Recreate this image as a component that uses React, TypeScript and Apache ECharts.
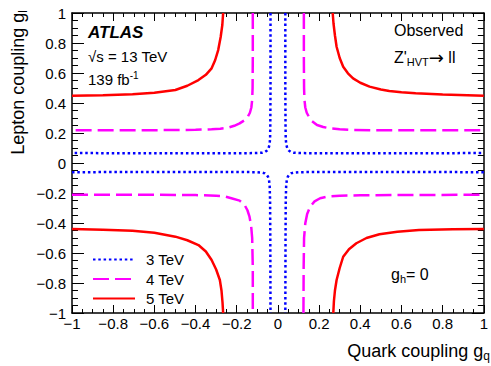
import React, { useEffect, useRef } from "react";
import * as echarts from "echarts";

const FONT = '"Liberation Sans", Arial, Helvetica, sans-serif';

// axis ticks
const axisMin = -1;
const axisMax = 1;
const axisStep = 0.2;

// legend labels
const massLabels = ["3 TeV", "4 TeV", "5 TeV"];

// 3 TeV contour branches [g_q, g_l]
const tev3_q1 = [[0.036, 1], [0.036, 0.5], [0.037, 0.25], [0.038, 0.16], [0.041, 0.12], [0.046, 0.097], [0.053, 0.083], [0.062, 0.074], [0.075, 0.069], [0.1, 0.066], [0.3, 0.065], [1, 0.066]];
const tev3_q2 = [[-0.036, 1], [-0.036, 0.5], [-0.037, 0.25], [-0.038, 0.16], [-0.041, 0.12], [-0.046, 0.097], [-0.053, 0.083], [-0.062, 0.074], [-0.075, 0.069], [-0.1, 0.066], [-0.3, 0.065], [-1, 0.066]];
const tev3_q3 = [[-1, -0.061], [-0.3, -0.06], [-0.1, -0.061], [-0.077, -0.064], [-0.064, -0.069], [-0.055, -0.078], [-0.048, -0.092], [-0.043, -0.115], [-0.04, -0.155], [-0.038, -0.25], [-0.037, -0.5], [-0.036, -1]];
const tev3_q4 = [[1, -0.061], [0.3, -0.06], [0.1, -0.061], [0.077, -0.064], [0.064, -0.069], [0.055, -0.078], [0.048, -0.092], [0.043, -0.115], [0.04, -0.155], [0.038, -0.25], [0.037, -0.5], [0.036, -1]];

// 4 TeV contour branches
const tev4_q1 = [[0.126, 1], [0.126, 0.7], [0.127, 0.5], [0.129, 0.42], [0.133, 0.37], [0.14, 0.335], [0.15, 0.309], [0.165, 0.28], [0.19, 0.253], [0.22, 0.24], [0.253, 0.231], [0.3, 0.225], [0.365, 0.22], [0.5, 0.218], [0.7, 0.218], [1, 0.218]];
const tev4_q2 = [[-0.122, 1], [-0.122, 0.7], [-0.123, 0.5], [-0.125, 0.42], [-0.129, 0.37], [-0.136, 0.335], [-0.146, 0.309], [-0.162, 0.285], [-0.186, 0.264], [-0.212, 0.248], [-0.242, 0.236], [-0.28, 0.229], [-0.322, 0.225], [-0.4, 0.221], [-0.6, 0.219], [-1, 0.218]];
const tev4_q3 = [[-1, -0.212], [-0.6, -0.212], [-0.4, -0.214], [-0.3, -0.218], [-0.26, -0.222], [-0.226, -0.235], [-0.186, -0.251], [-0.162, -0.28], [-0.148, -0.315], [-0.138, -0.358], [-0.13, -0.42], [-0.125, -0.5], [-0.122, -0.7], [-0.122, -1]];
const tev4_q4 = [[0.124, -1], [0.125, -0.7], [0.127, -0.5], [0.133, -0.402], [0.142, -0.34], [0.157, -0.29], [0.178, -0.256], [0.205, -0.235], [0.24, -0.224], [0.3, -0.218], [0.4, -0.215], [0.6, -0.213], [1, -0.212]];

// 5 TeV contour branches
const tev5_q1 = [[0.266, 1], [0.27, 0.93], [0.277, 0.85], [0.285, 0.775], [0.3, 0.7], [0.317, 0.642], [0.34, 0.598], [0.365, 0.564], [0.4, 0.535], [0.445, 0.509], [0.5, 0.49], [0.541, 0.48], [0.6, 0.471], [0.669, 0.465], [0.8, 0.456], [1, 0.449]];
const tev5_q2 = [[-0.266, 1], [-0.27, 0.92], [-0.278, 0.84], [-0.29, 0.753], [-0.305, 0.685], [-0.322, 0.631], [-0.35, 0.588], [-0.386, 0.553], [-0.44, 0.515], [-0.498, 0.487], [-0.6, 0.468], [-0.706, 0.458], [-0.85, 0.452], [-1, 0.449]];
const tev5_q3 = [[-1, -0.44], [-0.85, -0.445], [-0.706, -0.451], [-0.6, -0.465], [-0.498, -0.491], [-0.44, -0.515], [-0.386, -0.547], [-0.35, -0.59], [-0.322, -0.647], [-0.3, -0.71], [-0.282, -0.78], [-0.274, -0.85], [-0.269, -0.93], [-0.266, -1]];
const tev5_q4 = [[0.269, -1], [0.272, -0.92], [0.277, -0.85], [0.285, -0.78], [0.3, -0.7], [0.317, -0.625], [0.345, -0.575], [0.381, -0.535], [0.43, -0.5], [0.493, -0.475], [0.58, -0.458], [0.685, -0.447], [0.85, -0.442], [1, -0.44]];

const branches3 = [tev3_q1, tev3_q2, tev3_q3, tev3_q4];
const branches4 = [tev4_q1, tev4_q2, tev4_q3, tev4_q4];
const branches5 = [tev5_q1, tev5_q2, tev5_q3, tev5_q4];

const styles = [
  { color: "#0000ff", width: 2.5, type: [2.5, 2.8] as any },
  { color: "#ff00ff", width: 2.5, type: [16, 6] as any },
  { color: "#ff0000", width: 2.5, type: "solid" as any },
];

const fmt = (v: number) => {
  const r = Math.round(v * 10) / 10;
  return String(r).replace("-", "\u2212");
};

export default function App() {
  const ref = useRef<HTMLDivElement>(null);
  useEffect(() => {
    document.body.style.margin = "0";
    if (!ref.current) return;
    const chart = echarts.init(ref.current, undefined, { renderer: "svg" });

    const series: any[] = [];
    [branches3, branches4, branches5].forEach((group, gi) => {
      group.forEach((data) => {
        series.push({
          type: "line",
          name: massLabels[gi],
          data,
          symbol: "none",
          showSymbol: false,
          xAxisIndex: 0,
          yAxisIndex: 0,
          lineStyle: { color: styles[gi].color, width: styles[gi].width, type: styles[gi].type },
          itemStyle: { color: styles[gi].color },
          z: 3 + gi,
        });
      });
    });

    const common = {
      type: "value" as const,
      min: axisMin,
      max: axisMax,
      interval: axisStep,
      splitLine: { show: false },
      minorSplitLine: { show: false },
      axisLine: { show: true, onZero: false, lineStyle: { color: "#000", width: 1.5 } },
    };

    const option: any = {
      animation: false,
      grid: { left: 72, right: 2, top: 13, bottom: 53, containLabel: false },
      xAxis: [
        {
          ...common,
          position: "bottom",
          axisTick: { show: true, inside: true, length: 8, lineStyle: { color: "#000", width: 1 } },
          minorTick: { show: true, splitNumber: 4, length: 4, lineStyle: { color: "#000", width: 1 } },
          axisLabel: {
            show: true,
            interval: 0,
            showMinLabel: true,
            showMaxLabel: true,
            margin: 3,
            color: "#000",
            fontSize: 15,
            fontFamily: FONT,
            formatter: fmt,
          },
        },
        {
          ...common,
          position: "top",
          axisTick: { show: true, inside: true, length: 8, lineStyle: { color: "#000", width: 1 } },
          minorTick: { show: true, splitNumber: 4, length: 4, lineStyle: { color: "#000", width: 1 } },
          axisLabel: { show: false },
        },
      ],
      yAxis: [
        {
          ...common,
          position: "left",
          axisTick: { show: true, inside: true, length: 12, lineStyle: { color: "#000", width: 1 } },
          minorTick: { show: true, splitNumber: 4, length: 6, lineStyle: { color: "#000", width: 1 } },
          axisLabel: {
            show: true,
            interval: 0,
            showMinLabel: true,
            showMaxLabel: true,
            margin: 6,
            color: "#000",
            fontSize: 15,
            fontFamily: FONT,
            formatter: fmt,
          },
        },
        {
          ...common,
          position: "right",
          axisTick: { show: true, inside: true, length: 12, lineStyle: { color: "#000", width: 1 } },
          minorTick: { show: true, splitNumber: 4, length: 6, lineStyle: { color: "#000", width: 1 } },
          axisLabel: { show: false },
        },
      ],
      legend: {
        data: massLabels,
        orient: "vertical",
        left: 92,
        top: 252,
        padding: 0,
        itemWidth: 42,
        itemHeight: 14,
        itemGap: 4.5,
        selectedMode: false,
        itemStyle: { opacity: 0 },
        textStyle: { fontSize: 15, fontFamily: FONT, color: "#000", padding: [0, 0, 0, 6] },
      },
      graphic: [
        {
          type: "text",
          x: 88,
          y: 24,
          style: { text: "ATLAS", fontSize: 17, fontWeight: "bold", fontStyle: "italic", fontFamily: FONT, fill: "#000" },
        },
        {
          type: "text",
          x: 88,
          y: 49,
          style: { text: "\u221As = 13 TeV", fontSize: 15, fontFamily: FONT, fill: "#000" },
        },
        {
          type: "text",
          x: 88,
          y: 70,
          style: {
            text: "{m|139 fb}{p|-1}",
            fill: "#000",
            rich: {
              m: { fontSize: 15, lineHeight: 18, fontFamily: FONT, fill: "#000" },
              p: { fontSize: 10, lineHeight: 8, verticalAlign: "top", fontFamily: FONT, fill: "#000" },
            },
          },
        },
        {
          type: "text",
          x: 394,
          y: 22,
          style: { text: "Observed", fontSize: 16, fontFamily: FONT, fill: "#000" },
        },
        {
          type: "text",
          x: 394,
          y: 47.5,
          style: {
            text: "{m|Z'}{s|HVT}{a|\u2192}{m| ll}",
            fill: "#000",
            rich: {
              m: { fontSize: 16, lineHeight: 20, fontFamily: FONT, fill: "#000" },
              a: { fontSize: 18, lineHeight: 20, fontFamily: '"DejaVu Sans", sans-serif', fill: "#000" },
              s: { fontSize: 11, lineHeight: 9, verticalAlign: "bottom", fontFamily: FONT, fill: "#000" },
            },
          },
        },
        {
          type: "text",
          x: 391,
          y: 264.5,
          style: {
            text: "{m|g}{s|h}{m|= 0}",
            fill: "#000",
            rich: {
              m: { fontSize: 16, lineHeight: 20, fontFamily: FONT, fill: "#000" },
              s: { fontSize: 11, lineHeight: 9, verticalAlign: "bottom", fontFamily: FONT, fill: "#000" },
            },
          },
        },
        {
          type: "text",
          x: 490,
          y: 351,
          style: {
            text: "{m|Quark coupling g}{s|q}",
            fill: "#000",
            align: "right",
            textAlign: "right",
            verticalAlign: "middle",
            textVerticalAlign: "middle",
            rich: {
              m: { fontSize: 18, lineHeight: 22, fontFamily: FONT, fill: "#000" },
              s: { fontSize: 12, lineHeight: 10, verticalAlign: "bottom", fontFamily: FONT, fill: "#000" },
            },
          },
        },
        {
          type: "text",
          x: 17.5,
          y: 10,
          rotation: Math.PI / 2,
          style: {
            text: "{m|Lepton coupling g}{s|l}",
            fill: "#000",
            align: "right",
            textAlign: "right",
            verticalAlign: "middle",
            textVerticalAlign: "middle",
            rich: {
              m: { fontSize: 18, lineHeight: 22, fontFamily: FONT, fill: "#000" },
              s: { fontSize: 12, lineHeight: 10, verticalAlign: "bottom", fontFamily: FONT, fill: "#000" },
            },
          },
        },
      ],
      series,
    };

    chart.setOption(option);
    return () => chart.dispose();
  }, []);

  return <div ref={ref} style={{ width: 491, height: 366 }} />;
}
